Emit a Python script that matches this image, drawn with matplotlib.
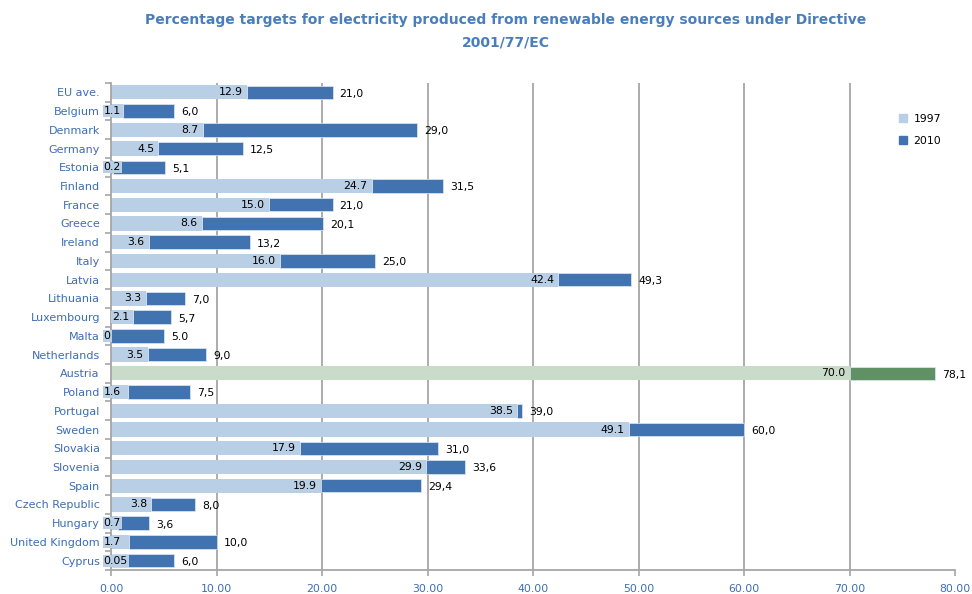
import numpy as np
import matplotlib.pyplot as plt
from matplotlib.patches import Patch

countries = ['EU ave.', 'Belgium', 'Denmark', 'Germany', 'Estonia', 'Finland', 'France',
             'Greece', 'Ireland', 'Italy', 'Latvia', 'Lithuania', 'Luxembourg', 'Malta',
             'Netherlands', 'Austria', 'Poland', 'Portugal', 'Sweden', 'Slovakia',
             'Slovenia', 'Spain', 'Czech Republic', 'Hungary', 'United Kingdom', 'Cyprus']
v1997 = [12.9, 1.1, 8.7, 4.5, 0.2, 24.7, 15.0, 8.6, 3.6, 16.0, 42.4, 3.3, 2.1, 0.0,
         3.5, 70.0, 1.6, 38.5, 49.1, 17.9, 29.9, 19.9, 3.8, 0.7, 1.7, 0.05]
v2010 = [21.0, 6.0, 29.0, 12.5, 5.1, 31.5, 21.0, 20.1, 13.2, 25.0, 49.3, 7.0, 5.7, 5.0,
         9.0, 78.1, 7.5, 39.0, 60.0, 31.0, 33.6, 29.4, 8.0, 3.6, 10.0, 6.0]
lab1997 = ['12.9', '1.1', '8.7', '4.5', '0.2', '24.7', '15.0', '8.6', '3.6', '16.0', '42.4',
           '3.3', '2.1', '0', '3.5', '70.0', '1.6', '38.5', '49.1', '17.9', '29.9', '19.9',
           '3.8', '0.7', '1.7', '0.05']
lab2010 = ['21,0', '6,0', '29,0', '12,5', '5,1', '31,5', '21,0', '20,1', '13,2', '25,0', '49,3',
           '7,0', '5,7', '5.0', '9,0', '78,1', '7,5', '39,0', '60,0', '31,0', '33,6', '29,4',
           '8,0', '3,6', '10,0', '6,0']
xticks = [0, 10, 20, 30, 40, 50, 60, 70, 80]

light = '#b9cfe6'
dark = '#4173b0'
light_hl = '#c8dcc9'
dark_hl = '#5f9165'
blue_txt = '#3d6db3'
grey = '#a6a6a6'

plt.rcParams['font.family'] = 'DejaVu Sans'

fig = plt.figure(figsize=(9.72, 5.94), dpi=100)
ax = fig.add_axes([111 / 972, 1 - 570 / 594, (955 - 111) / 972, (570 - 83) / 594])

y = np.arange(len(countries))
c1 = [light_hl if c == 'Austria' else light for c in countries]
c2 = [dark_hl if c == 'Austria' else dark for c in countries]
ax.barh(y, v1997, height=0.76, color=c1, zorder=2)
ax.barh(y, np.array(v2010) - np.array(v1997), left=v1997, height=0.72, color=c2,
        edgecolor='#dfe8f3', linewidth=0.5, zorder=2)

for i in range(len(countries)):
    if v1997[i] < 2.0:
        # small values: label pushed left, over the axis
        ax.annotate(lab1997[i], (-0.7, y[i]), ha='left', va='center', fontsize=7.8,
                    color='black', zorder=4, annotation_clip=False,
                    bbox=dict(boxstyle='square,pad=0.1', fc=c1[i], ec='none'))
    else:
        ax.annotate(lab1997[i], (v1997[i], y[i]), xytext=(-3, 0), textcoords='offset points',
                    ha='right', va='center', fontsize=7.8, color='black', zorder=4,
                    bbox=dict(boxstyle='square,pad=0.1', fc=c1[i], ec='none'))
    ax.annotate(lab2010[i], (v2010[i], y[i]), xytext=(5, -1), textcoords='offset points',
                ha='left', va='center', fontsize=7.8, color='black', zorder=4,
                annotation_clip=False)

ax.set_xlim(0, 80)
ax.set_ylim(len(countries) - 0.5, -0.5)
ax.set_xticks(xticks)
ax.set_xticklabels(['%.2f' % t for t in xticks], color=blue_txt, fontsize=7.8)
ax.set_yticks(y)
ax.set_yticklabels(countries, color=blue_txt, fontsize=8)
ax.set_yticks(np.arange(len(countries) + 1) - 0.5, minor=True)
ax.tick_params(axis='y', which='major', length=0, pad=8)
ax.tick_params(axis='y', which='minor', length=4, color=grey, width=1.2)
ax.tick_params(axis='x', length=4, color=grey, width=1.2, pad=6)

for t in xticks[1:-1]:
    ax.axvline(t, color=grey, linewidth=1.3, zorder=1)

for s in ['top', 'right']:
    ax.spines[s].set_visible(False)
for s in ['left', 'bottom']:
    ax.spines[s].set_color(grey)
    ax.spines[s].set_linewidth(1.3)

handles = [Patch(color=light, label='1997'), Patch(color=dark, label='2010')]
ax.legend(handles=handles, loc='upper left', bbox_to_anchor=(0.9226, 0.957), frameon=False,
          handlelength=0.7, handleheight=0.7, handletextpad=0.6, labelspacing=1.1,
          fontsize=7.8)

fig.text(0.52, 1 - 20 / 594, 'Percentage targets for electricity produced from renewable energy sources under Directive',
         ha='center', va='center', fontsize=10, fontweight='bold', color='#4a7ebb')
fig.text(0.52, 1 - 42 / 594, '2001/77/EC',
         ha='center', va='center', fontsize=10, fontweight='bold', color='#4a7ebb')

fig.savefig('out.png', dpi=100)
